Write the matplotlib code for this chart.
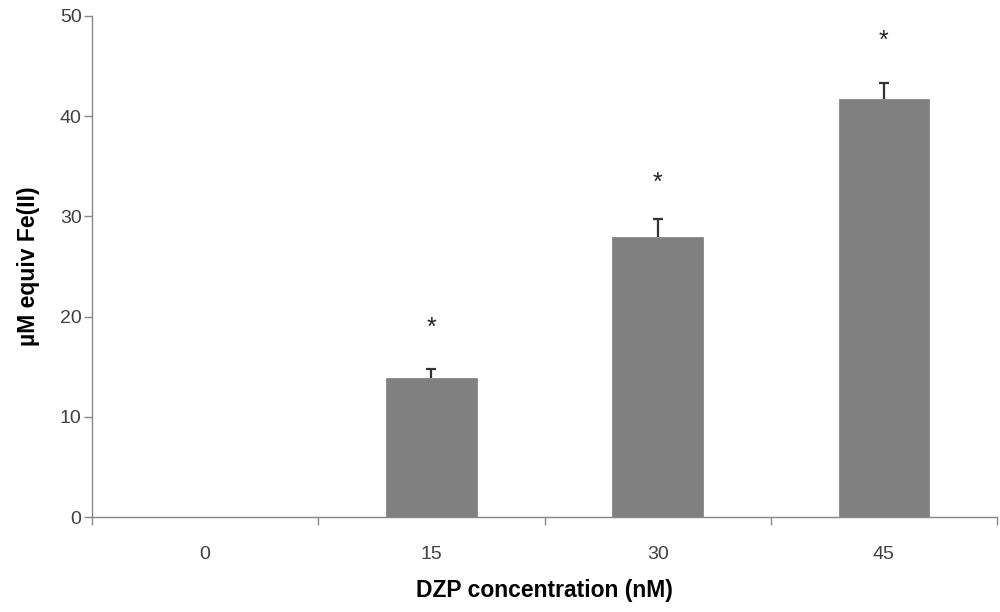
import numpy as np
import matplotlib
matplotlib.use("Agg")
import matplotlib.pyplot as plt

# data
conc = ["0", "15", "30", "45"]
fe_equiv = [0.0, 13.9, 27.9, 41.7]          # µM equiv Fe(II)
fe_err = [0.0, 0.9, 1.8, 1.6]               # upper error only
star_y = [None, 18.9, 33.3, 47.5]           # significance marks

plt.rcParams.update({"font.family": ["Liberation Sans", "DejaVu Sans"]})

fig = plt.figure(figsize=(10, 6.12), dpi=100)
ax = fig.add_axes([0.092, 0.155, 0.905, 0.819])

x = np.arange(len(conc))
y = np.array(fe_equiv)
err = np.array(fe_err)
ax.bar(x, y, width=0.4, color="#808080", edgecolor="#7c7c7c", lw=0.5, zorder=2)

# one-sided error bars (upper only)
m = y > 0
ax.vlines(x[m], y[m], y[m] + err[m], color="#333333", lw=1.6, zorder=3)
ax.hlines(y[m] + err[m], x[m] - 0.022, x[m] + 0.022, color="#333333", lw=1.6, zorder=3)

for xi, sy in zip(x, star_y):
    if sy is not None:
        ax.text(xi, sy, "*", ha="center", va="center", fontsize=18, color="#222222")

ax.set_xlim(-0.5, len(conc) - 0.5)
ax.set_ylim(0, 50)
ax.set_yticks(np.arange(0, 51, 10))
ax.set_xticks(x)
ax.set_xticklabels(conc)
ax.set_xticks(np.arange(-0.5, len(conc), 1.0), minor=True)
ax.tick_params(axis="x", which="major", length=0, pad=21, labelsize=14, labelcolor="#404040")
ax.tick_params(axis="x", which="minor", length=6, width=1, color="#888888", direction="out")
ax.tick_params(axis="y", length=6, width=1, color="#888888", direction="out",
               labelsize=14, labelcolor="#404040", pad=1.5)

for s in ["top", "right"]:
    ax.spines[s].set_visible(False)
for s in ["left", "bottom"]:
    ax.spines[s].set_color("#888888")
    ax.spines[s].set_linewidth(1.0)

ax.set_xlabel("DZP concentration (nM)", fontsize=16.5, fontweight="bold")
ax.set_ylabel("µM equiv Fe(II)", fontsize=16.5, fontweight="bold")
ax.xaxis.set_label_coords(0.5, -0.123)
ax.yaxis.set_label_coords(-0.058, 0.5)

fig.savefig("out.png", dpi=100)
